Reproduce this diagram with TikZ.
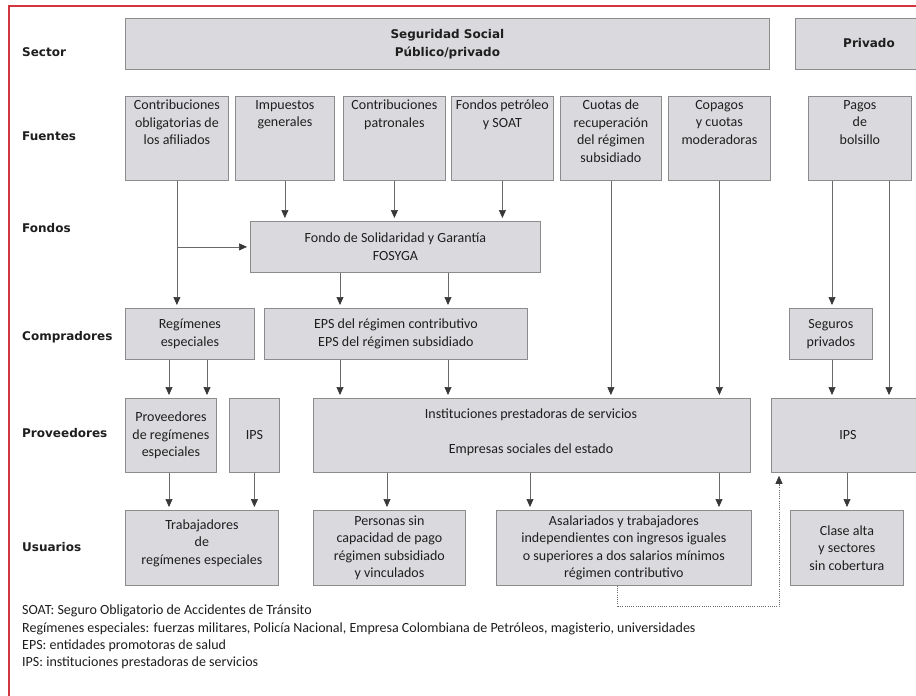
\documentclass[tikz,border=0pt]{standalone}
\usepackage{fontspec}
\setmainfont{Carlito}
\newfontfamily\lblfont{DejaVu Sans}
\usetikzlibrary{arrows.meta}

\definecolor{boxfill}{RGB}{218,218,222}
\definecolor{boxline}{RGB}{140,140,140}
\definecolor{arrline}{RGB}{105,105,105}
\definecolor{headcol}{RGB}{55,55,55}
\definecolor{framecol}{RGB}{210,55,65}
\definecolor{txt}{RGB}{30,30,30}

\newcommand\bx[5]{\node[box, minimum width={(#4-#2)*1pt}, minimum height={(#5-#3)*1pt}] (#1) at (#2,#3) {};}

\tikzset{
  box/.style={draw=boxline, fill=boxfill, line width=0.8pt, anchor=north west, inner sep=0pt},
  lbl/.style={font=\lblfont\bfseries\fontsize{12}{14}\selectfont, text=txt, anchor=west, inner sep=0pt},
  hdr/.style={font=\lblfont\bfseries\fontsize{12}{18}\selectfont, text=txt, align=center, inner sep=0pt},
  btxt/.style={font=\fontsize{14}{17.5}\selectfont, align=center, text=txt, inner sep=0pt},
  toptxt/.style={btxt, anchor=north},
  arr/.style={draw=arrline, line width=0.7pt, -{Triangle[length=8pt,width=7pt,color=headcol]}, shorten >=3pt},
  dotarr/.style={arr, dash pattern=on 1pt off 1.2pt},
}

\begin{document}
\begin{tikzpicture}[x=1pt,y=-1pt]
\useasboundingbox (0,0) rectangle (916,696);
\clip (0,0) rectangle (916,696);
\fill[white] (0,0) rectangle (916,696);
\draw[framecol, line width=1.3pt] (918,6) -- (9,6) -- (9,698);

% coordinates for arrow x positions
\coordinate (c340) at (340,0);
\coordinate (c448) at (448,0);
\coordinate (c832) at (832,0);
\coordinate (c889) at (889,0);
\coordinate (c207) at (207,0);
\coordinate (c169) at (169,0);
\coordinate (c387) at (387,0);
\coordinate (c530) at (530,0);
\coordinate (c719) at (719,0);
\coordinate (c847) at (847,0);
\coordinate (c617) at (617,0);
\coordinate (c779) at (779,0);

% row labels
\node[lbl] (lsec) at (22,52) {Sector};
\node[lbl] (lfue) at (22,136) {Fuentes};
\node[lbl] (lfon) at (22,228) {Fondos};
\node[lbl] (lcom) at (22,337) {Compradores};
\node[lbl] (lpro) at (22,433) {Proveedores};
\node[lbl] (lusu) at (22,547) {Usuarios};

% boxes
\bx{sec}{125}{18}{769}{69}
\bx{pri}{795}{18}{945}{69}
\bx{f1}{125}{96}{228}{180}
\bx{f2}{235}{96}{334}{180}
\bx{f3}{343}{96}{445}{180}
\bx{f4}{451}{96}{553}{180}
\bx{f5}{560}{96}{661}{180}
\bx{f6}{668}{96}{770}{180}
\bx{f7}{808}{96}{911}{180}
\bx{fos}{250}{221}{540}{272}
\bx{reg}{125}{308}{254}{359}
\bx{eps}{264}{308}{527}{359}
\bx{seg}{789}{308}{872}{359}
\bx{prv}{125}{398}{216}{472}
\bx{ips1}{229}{398}{279}{472}
\bx{ins}{313}{398}{750}{472}
\bx{ips2}{771}{398}{925}{472}
\bx{tra}{125}{510}{278}{585}
\bx{per}{313}{510}{465}{585}
\bx{asa}{496}{510}{751}{585}
\bx{cla}{790}{510}{903}{585}

% texts
\node[hdr] (tsec) at (sec.center) {Seguridad Social\\Público/privado};
\node[hdr] (tpri) at (869,43.5) {Privado};
\node[toptxt] (tf1) at ([yshift=-4pt]f1.north) {Contribuciones\\obligatorias de\\los afiliados};
\node[toptxt] (tf2) at ([yshift=-4pt]f2.north) {Impuestos\\generales};
\node[toptxt] (tf3) at ([yshift=-4pt]f3.north) {Contribuciones\\patronales};
\node[toptxt] (tf4) at ([yshift=-4pt]f4.north) {Fondos petróleo\\y SOAT};
\node[toptxt] (tf5) at ([yshift=-4pt]f5.north) {Cuotas de\\recuperación\\del régimen\\subsidiado};
\node[toptxt] (tf6) at ([yshift=-4pt]f6.north) {Copagos\\y cuotas\\moderadoras};
\node[toptxt] (tf7) at ([yshift=-4pt]f7.north) {Pagos\\de\\bolsillo};
\node[btxt] (tfos) at (fos.center) {Fondo de Solidaridad y Garantía\\FOSYGA};
\node[btxt] (treg) at (reg.center) {Regímenes\\especiales};
\node[btxt] (teps) at (eps.center) {EPS del régimen contributivo\\EPS del régimen subsidiado};
\node[btxt] (tseg) at (seg.center) {Seguros\\privados};
\node[btxt] (tprv) at (prv.center) {Proveedores\\de regímenes\\especiales};
\node[btxt] (tips1) at (ips1.center) {IPS};
\node[btxt] (tins1) at (531,415) {Instituciones prestadoras de servicios};
\node[btxt] (tins2) at (531,450) {Empresas sociales del estado};
\node[btxt] (tips2) at (848,435) {IPS};
\node[btxt] (ttra) at ([yshift=5pt]tra.center) {Trabajadores\\de\\regímenes especiales};
\node[btxt] (tper) at (per.center) {Personas sin\\capacidad de pago\\régimen subsidiado\\y vinculados};
\node[btxt] (tasa) at (asa.center) {Asalariados y trabajadores\\independientes con ingresos iguales\\o superiores a dos salarios mínimos\\régimen contributivo};
\node[btxt] (tcla) at (cla.center) {Clase alta\\y sectores\\sin cobertura};

% arrows: fuentes -> fondos / compradores
\draw[arr] (f1.south) -- (reg.north -| f1.south);
\draw[arr] (fos.west -| f1.south) -- (fos.west);
\draw[arr] (f2.south) -- (fos.north -| f2.south);
\draw[arr] (f3.south) -- (fos.north -| f3.south);
\draw[arr] (f4.south) -- (fos.north -| f4.south);
\draw[arr] (fos.south -| c340) -- (eps.north -| c340);
\draw[arr] (fos.south -| c448) -- (eps.north -| c448);
\draw[arr] (f5.south) -- (ins.north -| f5.south);
\draw[arr] (f6.south) -- (ins.north -| f6.south);
\draw[arr] (f7.south -| c832) -- (seg.north -| c832);
\draw[arr] (f7.south -| c889) -- (ips2.north -| c889);
% compradores -> proveedores
\draw[arr] (reg.south -| c169) -- (prv.north -| c169);
\draw[arr] (reg.south -| c207) -- (prv.north -| c207);
\draw[arr] (eps.south -| c340) -- (ins.north -| c340);
\draw[arr] (eps.south -| c448) -- (ins.north -| c448);
\draw[arr] (seg.south -| c832) -- (ips2.north -| c832);
% proveedores -> usuarios
\draw[arr] (prv.south -| c169) -- (tra.north -| c169);
\draw[arr] (ips1.south) -- (tra.north -| ips1.south);
\draw[arr] (ins.south -| c387) -- (per.north -| c387);
\draw[arr] (ins.south -| c530) -- (asa.north -| c530);
\draw[arr] (ins.south -| c719) -- (asa.north -| c719);
\draw[arr] (ips2.south -| c847) -- (cla.north -| c847);
% dotted feedback
\draw[dotarr] (asa.south -| c617) -- ++(0,21) -| (ips2.south -| c779);

% footnotes
\node[font=\fontsize{14}{17.3}\selectfont, text=txt, align=left, anchor=north west, inner sep=0pt] (notes) at (22,605)
 {SOAT: Seguro Obligatorio de Accidentes de Tránsito\\
  Regímenes especiales: fuerzas militares, Policía Nacional, Empresa Colombiana de Petróleos, magisterio, universidades\\
  EPS: entidades promotoras de salud\\
  IPS: instituciones prestadoras de servicios};
\end{tikzpicture}
\end{document}
